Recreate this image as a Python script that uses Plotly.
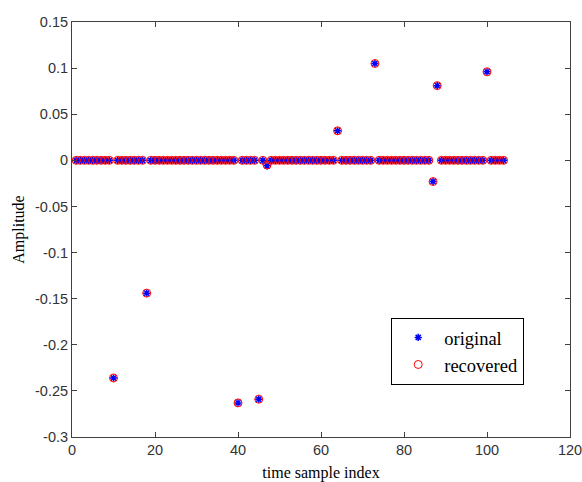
import plotly.graph_objects as go

# ---- data ----
sample_index = list(range(1, 105))
spike_index = [10, 18, 40, 45, 47, 64, 73, 87, 88, 100]
original_spikes = [-0.236, -0.144, -0.263, -0.259, -0.006, 0.032, 0.105, -0.023, 0.081, 0.096]
recovered_spikes = [-0.236, -0.144, -0.263, -0.259, -0.005, 0.032, 0.105, -0.023, 0.081, 0.096]

original = [0.0] * len(sample_index)
recovered = [0.0] * len(sample_index)
for i, v in zip(spike_index, original_spikes):
    original[sample_index.index(i)] = v
for i, v in zip(spike_index, recovered_spikes):
    recovered[sample_index.index(i)] = v

x_ticks = [0, 20, 40, 60, 80, 100, 120]
y_ticks = [0.15, 0.1, 0.05, 0, -0.05, -0.1, -0.15, -0.2, -0.25, -0.3]
y_ticklabels = ["0.15", "0.1", "0.05", "0", "-0.05", "-0.1", "-0.15", "-0.2", "-0.25", "-0.3"]

fig = go.Figure()
fig.add_trace(go.Scatter(
    x=sample_index, y=original, mode="markers", name="original",
    marker=dict(symbol="asterisk-open", size=6, color="#0000ff",
                line=dict(color="#0000ff", width=1.5)),
))
fig.add_trace(go.Scatter(
    x=sample_index, y=recovered, mode="markers", name="recovered",
    marker=dict(symbol="circle-open", size=8, color="#ff0000",
                line=dict(color="#ff0000", width=1)),
))

axis_common = dict(
    showgrid=False, zeroline=False, showline=True, linecolor="#404040", linewidth=1,
    mirror="ticks", ticks="inside", ticklen=5, tickcolor="#404040", automargin=False,
    ticklabeloverflow="allow",
    tickfont=dict(family="Liberation Sans, Arial", size=14.5, color="#333333"),
)

fig.update_layout(
    width=582, height=482,
    margin=dict(l=72, r=12, t=22, b=45),
    paper_bgcolor="white", plot_bgcolor="white",
    showlegend=True,
    legend=dict(
        x=0.641, y=0.287, xanchor="left", yanchor="top",
        bgcolor="white", bordercolor="#000000", borderwidth=1,
        font=dict(family="Liberation Serif, Times New Roman", size=18.5, color="#000000"),
        tracegroupgap=0, itemwidth=42,
    ),
    xaxis=dict(range=[0, 120], tickvals=x_ticks,
               title=dict(text="time sample index", standoff=9,
                          font=dict(family="Liberation Serif, Times New Roman", size=16, color="#000000")),
               **axis_common),
    yaxis=dict(range=[-0.3, 0.15], tickvals=y_ticks, ticktext=y_ticklabels,
               title=dict(text="Amplitude", standoff=6,
                          font=dict(family="Liberation Serif, Times New Roman", size=16, color="#000000")),
               **axis_common),
)

fig.write_html(
    "out.html",
    config={"displayModeBar": False},
    post_script="document.body.style.margin='0';document.body.style.overflow='hidden';",
)
